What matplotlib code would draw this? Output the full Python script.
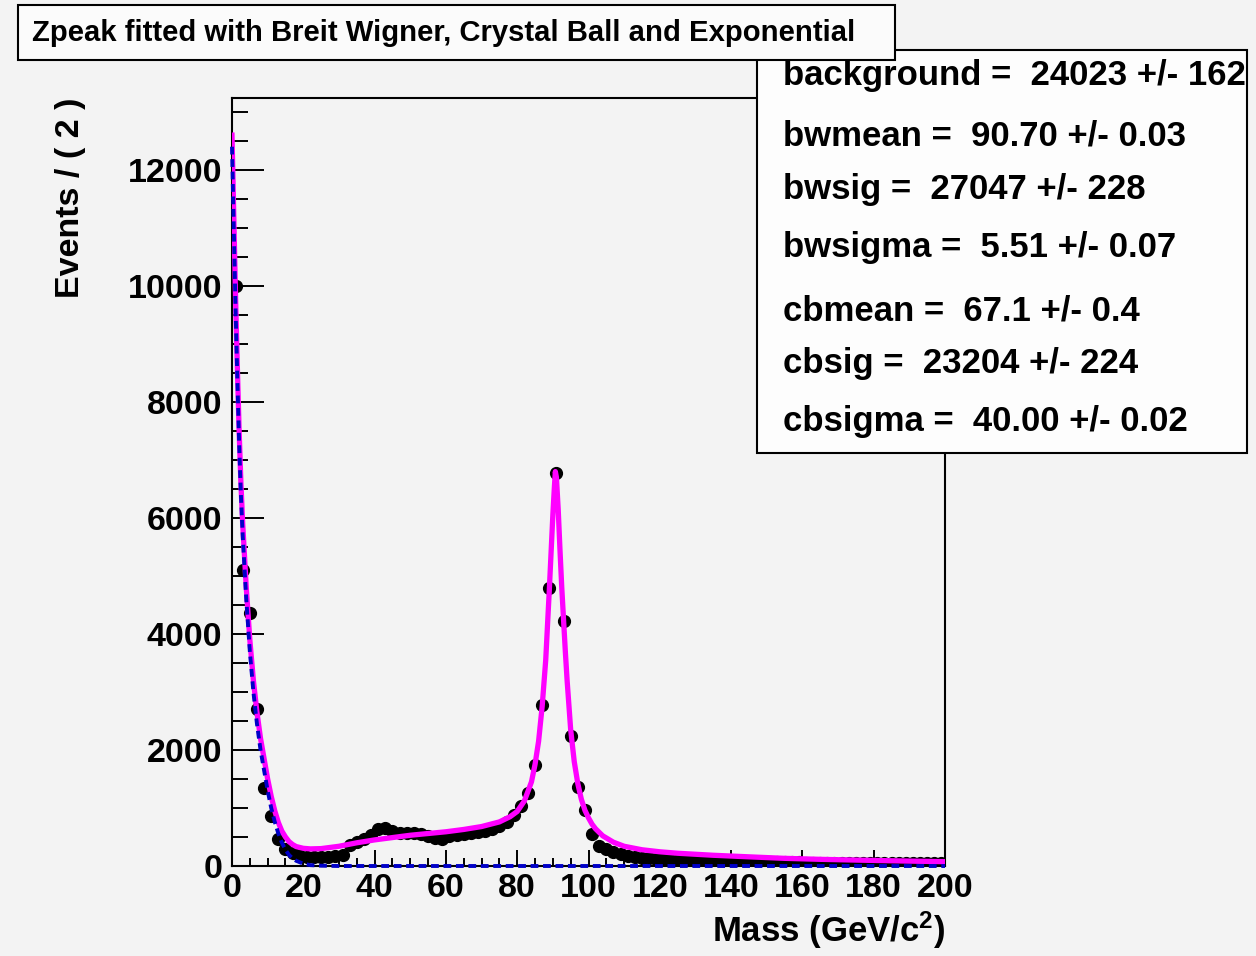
import numpy as np
import matplotlib
matplotlib.use("Agg")
import matplotlib.pyplot as plt
from matplotlib.patches import Rectangle
from matplotlib.ticker import MultipleLocator

plt.rcParams['font.family'] = ['Liberation Sans', 'DejaVu Sans']
plt.rcParams['font.weight'] = 'bold'
plt.rcParams['mathtext.fontset'] = 'custom'
plt.rcParams['mathtext.rm'] = 'Liberation Sans:bold'
plt.rcParams['mathtext.bf'] = 'Liberation Sans:bold'
plt.rcParams['mathtext.default'] = 'rm'

# ---------------- data ----------------
bin_centers = list(range(1, 200, 2))
events = [
    10000, 5100, 4370, 2710, 1340, 860, 460, 300, 220, 180,
    160, 150, 155, 160, 170, 190, 360, 420, 470, 540,
    630, 650, 600, 575, 565, 570, 555, 520, 480, 470,
    515, 540, 560, 575, 590, 610, 640, 690, 760, 880,
    1040, 1264, 1741, 2776, 4788, 6770, 4229, 2241, 1367, 960,
    560, 350, 290, 245, 205, 175, 155, 140, 130, 122,
    115, 108, 103, 98, 95, 90, 88, 85, 82, 80,
    78, 76, 74, 72, 70, 68, 66, 65, 63, 62,
    60, 59, 58, 57, 57, 56, 55, 54, 53, 52,
    52, 51, 50, 50, 49, 48, 48, 47, 47, 46,
]

# total fit curve
fit_x = [0, 0.5, 1, 1.5, 2, 2.5, 3, 4, 5, 6, 7, 8, 9, 10, 11, 12, 13, 14, 15, 16,
         17, 18, 20, 22, 25, 30, 35, 40, 45, 50, 55, 60, 65, 70, 75, 78, 80, 82,
         84, 85, 86, 87, 88, 88.5, 89, 89.5, 90, 90.4, 90.7, 91, 91.5, 92, 92.5,
         93, 93.5, 94, 95, 96, 97, 98, 99, 100, 101, 102, 104, 107, 110, 115,
         120, 125, 135, 145, 155, 165, 175, 185, 200]
fit_y = [12600, 11200, 9800, 8600, 7500, 6600, 5900, 4800, 3900, 3200, 2650, 2200,
         1850, 1500, 1200, 950, 750, 600, 500, 420, 370, 335, 305, 295, 300, 340,
         400, 450, 490, 530, 560, 590, 630, 680, 760, 850, 940, 1120, 1450, 1750,
         2150, 2750, 3550, 4150, 4750, 5400, 6050, 6500, 6800, 6700, 6150, 5450,
         4800, 4250, 3700, 3200, 2350, 1800, 1420, 1150, 960, 830, 720, 640, 520,
         410, 340, 280, 245, 220, 185, 158, 132, 115, 102, 90, 74]

# exponential background component
exp_x = [0, 0.5, 1, 1.5, 2, 2.5, 3, 4, 5, 6, 7, 8, 9, 10, 11, 12, 13, 14, 15, 16,
         17, 18, 20, 22, 25, 30, 200]
exp_y = [12400, 11000, 9600, 8400, 7300, 6400, 5700, 4600, 3700, 3000, 2450, 2000,
         1650, 1300, 1000, 760, 560, 400, 280, 190, 130, 90, 40, 15, 5, 0, 0]

title_text = "Zpeak fitted with Breit Wigner, Crystal Ball and Exponential"
stat_lines = [
    "background =  24023 +/- 162",
    "bwmean =  90.70 +/- 0.03",
    "bwsig =  27047 +/- 228",
    "bwsigma =  5.51 +/- 0.07",
    "cbmean =  67.1 +/- 0.4",
    "cbsig =  23204 +/- 224",
    "cbsigma =  40.00 +/- 0.02",
]
x_ticks = list(range(0, 201, 20))
y_ticks = list(range(0, 12001, 2000))

# ---------------- figure ----------------
W, H = 1256, 956
bg = '#f3f3f3'
fig = plt.figure(figsize=(W / 100, H / 100), dpi=100, facecolor=bg)

def fx(px):
    return px / W

def fy(py):
    return 1 - py / H

ax = fig.add_axes([fx(232), fy(866), fx(945) - fx(232), fy(98) - fy(866)])
ax.set_facecolor(bg)

yerr = np.sqrt(np.array(events, dtype=float))
ax.errorbar(bin_centers, events, yerr=yerr, xerr=1, fmt='o', color='black',
            ms=8.5, elinewidth=1.4, capsize=0, zorder=2)
ax.plot(fit_x, fit_y, color='#ff00ff', lw=3.8, zorder=3, solid_joinstyle='round')
ax.plot(exp_x, exp_y, color='#0000c8', lw=2.8, dashes=(2.0, 1.2), zorder=4,
        clip_on=False)

ax.set_xlim(0, 200)
ax.set_ylim(0, 13240)
ax.set_xticks(x_ticks)
ax.set_yticks(y_ticks)
ax.xaxis.set_minor_locator(MultipleLocator(5))
ax.yaxis.set_minor_locator(MultipleLocator(500))
ax.tick_params(axis='y', which='major', direction='in', length=23, width=1.4,
               labelsize=24.5, pad=7, right=False)
ax.tick_params(axis='y', which='minor', direction='in', length=11.5, width=1.4,
               right=False)
ax.tick_params(axis='x', which='major', direction='in', length=11.5, width=1.4,
               labelsize=24.5, pad=5, top=False)
ax.tick_params(axis='x', which='minor', direction='in', length=6, width=1.4,
               top=False)
for lab in ax.get_xticklabels() + ax.get_yticklabels():
    lab.set_fontweight('bold')
for s in ax.spines.values():
    s.set_linewidth(1.5)
    s.set_color('black')

fig.text(fx(945), fy(930), 'Mass (GeV/c$^{2}$)', ha='right', va='center',
         fontsize=25, fontweight='bold')
fig.text(fx(70), fy(97), 'Events / ( 2 )', rotation=90, ha='center', va='top',
         fontsize=24.5, fontweight='bold')

# stats box
fig.add_artist(Rectangle((fx(757), fy(453)), fx(1247) - fx(757), fy(50) - fy(453),
                         transform=fig.transFigure, facecolor='#fdfdfd',
                         edgecolor='black', lw=1.5, zorder=5))
row_y = [75, 136, 190, 248, 311, 364, 421]
for t, yy in zip(stat_lines, row_y):
    fig.text(fx(783), fy(yy), t, ha='left', va='center', fontsize=25,
             fontweight='bold', zorder=6)

# title box
fig.add_artist(Rectangle((fx(18), fy(60)), fx(895) - fx(18), fy(5) - fy(60),
                         transform=fig.transFigure, facecolor='#fbfbfb',
                         edgecolor='black', lw=1.5, zorder=7))
fig.text(fx(444), fy(33), title_text, ha='center', va='center', fontsize=21.1,
         fontweight='bold', zorder=8)

fig.savefig('out.png', dpi=100, facecolor=bg)
